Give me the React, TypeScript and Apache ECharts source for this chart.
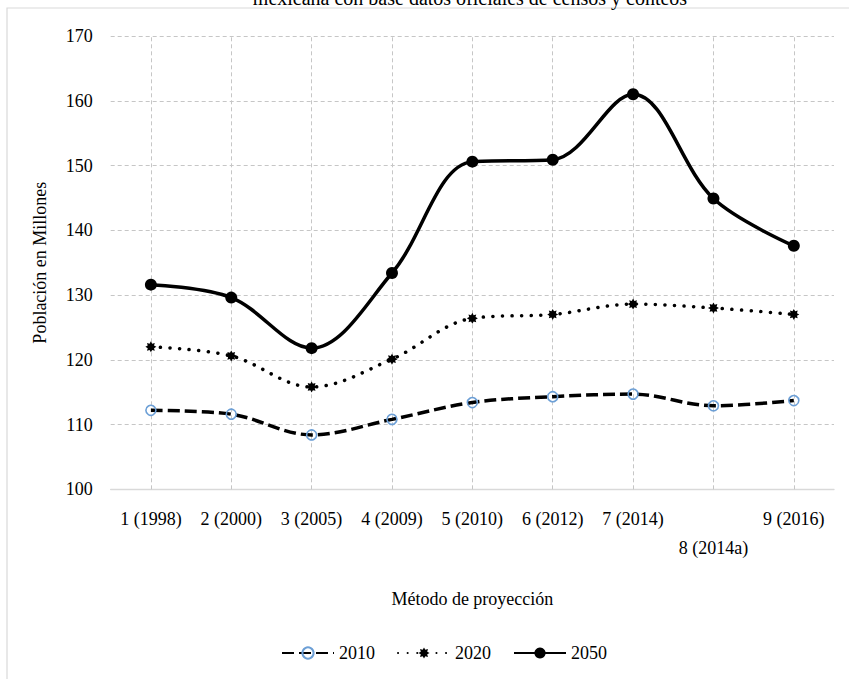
import React, { useEffect, useRef } from "react";
import * as echarts from "echarts";

const categories = [
  "1 (1998)",
  "2 (2000)",
  "3 (2005)",
  "4 (2009)",
  "5 (2010)",
  "6 (2012)",
  "7 (2014)",
  "\n8 (2014a)",
  "9 (2016)",
];
const seriesNames = ["2010", "2020", "2050"];
const values2010 = [112.2, 111.6, 108.4, 110.8, 113.4, 114.3, 114.7, 112.9, 113.7];
const values2020 = [122.0, 120.6, 115.8, 120.1, 126.4, 127.0, 128.6, 128.0, 127.0];
const values2050 = [131.6, 129.6, 121.8, 133.4, 150.6, 150.9, 161.0, 144.9, 137.6];
const yTicks = { min: 100, max: 170, interval: 10 };

const FONT = "'Liberation Serif', 'Times New Roman', serif";

function starPath(): string {
  const pts: string[] = [];
  const n = 8;
  for (let i = 0; i < n * 2; i++) {
    const r = i % 2 === 0 ? 10 : 6.2;
    const a = (Math.PI * i) / n - Math.PI / 2;
    const x = 10 + r * Math.cos(a);
    const y = 10 + r * Math.sin(a);
    pts.push((i === 0 ? "M" : "L") + x.toFixed(2) + " " + y.toFixed(2));
  }
  return "path://" + pts.join(" ") + " Z";
}

export default function App() {
  const ref = useRef<HTMLDivElement>(null);
  useEffect(() => {
    if (!ref.current) return;
    const chart = echarts.init(ref.current, undefined, { renderer: "svg" });
    const gridLine = { show: true, lineStyle: { color: "#c6c6c6", type: [4, 3], width: 1 } };
    chart.setOption({
      animation: false,
      backgroundColor: "#ffffff",
      textStyle: { fontFamily: FONT },
      graphic: [
        {
          type: "rect",
          shape: { x: 7, y: 8, width: 900, height: 700 },
          style: { fill: "none", stroke: "#d9d9d9", lineWidth: 1.2 },
          silent: true,
          z: -10,
        },
        {
          type: "text",
          x: 470,
          y: -2,
          style: {
            text: "mexicana con base datos oficiales de censos y conteos",
            fontFamily: FONT,
            fontSize: 20,
            fill: "#000",
            align: "center",
            verticalAlign: "middle",
          },
        },
      ],
      grid: { left: 110.7, right: 15, top: 36, bottom: 189.7, containLabel: false },
      legend: {
        left: 276,
        top: 639,
        itemWidth: 52,
        itemHeight: 14,
        itemGap: 22,
        data: seriesNames,
        textStyle: { fontFamily: FONT, fontSize: 18, color: "#000" },
      },
      xAxis: {
        type: "category",
        data: categories,
        boundaryGap: true,
        name: "Método de proyección",
        nameLocation: "middle",
        nameGap: 101,
        nameTextStyle: { fontFamily: FONT, fontSize: 18, color: "#000" },
        axisLine: { show: true, lineStyle: { color: "#d9d9d9", width: 1.3 } },
        axisTick: { show: false },
        axisLabel: {
          interval: 0,
          margin: 15,
          fontFamily: FONT,
          fontSize: 18,
          lineHeight: 29,
          color: "#000",
        },
        splitLine: { show: false },
      },
      yAxis: {
        type: "value",
        min: yTicks.min,
        max: yTicks.max,
        interval: yTicks.interval,
        name: "Población en Millones",
        nameLocation: "middle",
        nameGap: 62,
        nameTextStyle: { fontFamily: FONT, fontSize: 18, color: "#000" },
        axisLine: { show: false },
        axisTick: { show: false },
        axisLabel: { margin: 18, fontFamily: FONT, fontSize: 18, color: "#000" },
        splitLine: gridLine,
      },
      series: [
        {
          name: seriesNames[0],
          type: "line",
          data: values2010,
          smooth: 0.35,
          symbol: "circle",
          symbolSize: 10,
          itemStyle: { color: "rgba(255,255,255,0)", borderColor: "#6c9fd6", borderWidth: 1.6 },
          lineStyle: { color: "#000", width: 3.5, type: [12, 5] },
          z: 3,
          markLine: {
            silent: true,
            symbol: "none",
            label: { show: false },
            lineStyle: { color: "#c6c6c6", type: [4, 3], width: 1 },
            data: categories.map((c) => ({ xAxis: c })),
            z: 1,
          },
        },
        {
          name: seriesNames[1],
          type: "line",
          data: values2020,
          smooth: 0.35,
          symbol: starPath(),
          symbolSize: 11,
          itemStyle: { color: "#000" },
          lineStyle: { color: "#000", width: 3.5, type: [0.1, 9.5], cap: "round" },
          z: 4,
        },
        {
          name: seriesNames[2],
          type: "line",
          data: values2050,
          smooth: 0.35,
          symbol: "circle",
          symbolSize: 12,
          itemStyle: { color: "#000" },
          lineStyle: { color: "#000", width: 3.5 },
          z: 5,
        },
      ],
    });
    return () => chart.dispose();
  }, []);
  return (
    <div
      ref={ref}
      style={{ position: "fixed", left: 0, top: 0, width: 849, height: 679, background: "#fff" }}
    />
  );
}
